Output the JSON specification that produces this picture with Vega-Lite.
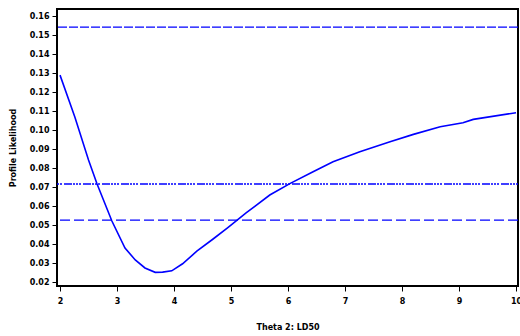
{
  "$schema": "https://vega.github.io/schema/vega-lite/v6.json",
  "autosize": "none",
  "width": 461,
  "height": 277,
  "padding": {"left": 57, "top": 9, "right": 2, "bottom": 50},
  "background": "white",
  "config": {
    "view": {"stroke": "black", "strokeWidth": 2},
    "axis": {
      "labelFont": "DejaVu Sans",
      "labelFontWeight": "bold",
      "labelFontSize": 8,
      "labelColor": "black",
      "titleFont": "DejaVu Sans",
      "titleFontWeight": "bold",
      "titleFontSize": 8,
      "titleColor": "black",
      "tickColor": "black",
      "tickSize": 5,
      "tickWidth": 1,
      "domain": false,
      "grid": false
    }
  },
  "layer": [
    {
      "data": {"values": [
        {"theta": 2.0, "lik": 0.1289},
        {"theta": 2.26, "lik": 0.1068},
        {"theta": 2.5, "lik": 0.0842},
        {"theta": 2.65, "lik": 0.0716},
        {"theta": 2.91, "lik": 0.0521},
        {"theta": 3.14, "lik": 0.0379},
        {"theta": 3.32, "lik": 0.0316},
        {"theta": 3.49, "lik": 0.0274},
        {"theta": 3.67, "lik": 0.0251},
        {"theta": 3.8, "lik": 0.0252},
        {"theta": 3.96, "lik": 0.0259},
        {"theta": 4.15, "lik": 0.0296},
        {"theta": 4.4, "lik": 0.0362},
        {"theta": 4.68, "lik": 0.0425},
        {"theta": 4.95, "lik": 0.0488},
        {"theta": 5.27, "lik": 0.0565},
        {"theta": 5.68, "lik": 0.0658},
        {"theta": 6.04, "lik": 0.0719},
        {"theta": 6.44, "lik": 0.078},
        {"theta": 6.79, "lik": 0.0833},
        {"theta": 7.26, "lik": 0.0886},
        {"theta": 7.79, "lik": 0.0938},
        {"theta": 8.2, "lik": 0.0977},
        {"theta": 8.67, "lik": 0.1017},
        {"theta": 9.07, "lik": 0.1038},
        {"theta": 9.25, "lik": 0.1056},
        {"theta": 10.0, "lik": 0.1091}
      ]},
      "mark": {"type": "line", "color": "#0000ff", "strokeWidth": 1.6, "clip": true},
      "encoding": {
        "x": {"field": "theta", "type": "quantitative",
              "scale": {"domain": [1.947, 10.035], "nice": false, "zero": false},
              "axis": {"values": [2, 3, 4, 5, 6, 7, 8, 9, 10], "title": "Theta 2: LD50", "labelPadding": 6, "titlePadding": 18, "labelOverlap": false, "labelFlush": false, "labelBound": false}},
        "y": {"field": "lik", "type": "quantitative",
              "scale": {"domain": [0.0179, 0.1637], "nice": false, "zero": false},
              "axis": {"values": [0.02, 0.03, 0.04, 0.05, 0.06, 0.07, 0.08, 0.09, 0.1, 0.11, 0.12, 0.13, 0.14, 0.15, 0.16], "format": ".2f", "title": "Profile Likelihood", "labelPadding": 3, "titlePadding": 12, "labelOverlap": false, "labelFlush": false, "labelBound": false}}
      }
    },
    {
      "data": {"values": [{"level": 0.1542}]},
      "mark": {"type": "rule", "color": "#0000ff", "strokeWidth": 1.3, "strokeDash": [9, 2]},
      "encoding": {"y": {"field": "level", "type": "quantitative",
              "axis": {"values": [0.02, 0.03, 0.04, 0.05, 0.06, 0.07, 0.08, 0.09, 0.1, 0.11, 0.12, 0.13, 0.14, 0.15, 0.16], "format": ".2f", "title": "Profile Likelihood", "labelPadding": 3, "titlePadding": 12, "labelOverlap": false, "labelFlush": false, "labelBound": false}}}
    },
    {
      "data": {"values": [{"level": 0.0716}]},
      "mark": {"type": "rule", "color": "#0000ff", "strokeWidth": 1.3, "strokeDash": [2, 1, 2, 1, 2, 1, 8, 2]},
      "encoding": {"y": {"field": "level", "type": "quantitative",
              "axis": {"values": [0.02, 0.03, 0.04, 0.05, 0.06, 0.07, 0.08, 0.09, 0.1, 0.11, 0.12, 0.13, 0.14, 0.15, 0.16], "format": ".2f", "title": "Profile Likelihood", "labelPadding": 3, "titlePadding": 12, "labelOverlap": false, "labelFlush": false, "labelBound": false}}}
    },
    {
      "data": {"values": [{"level": 0.0526}]},
      "mark": {"type": "rule", "color": "#0000ff", "strokeWidth": 1.3, "strokeDash": [10, 4]},
      "encoding": {"y": {"field": "level", "type": "quantitative",
              "axis": {"values": [0.02, 0.03, 0.04, 0.05, 0.06, 0.07, 0.08, 0.09, 0.1, 0.11, 0.12, 0.13, 0.14, 0.15, 0.16], "format": ".2f", "title": "Profile Likelihood", "labelPadding": 3, "titlePadding": 12, "labelOverlap": false, "labelFlush": false, "labelBound": false}}}
    }
  ]
}
